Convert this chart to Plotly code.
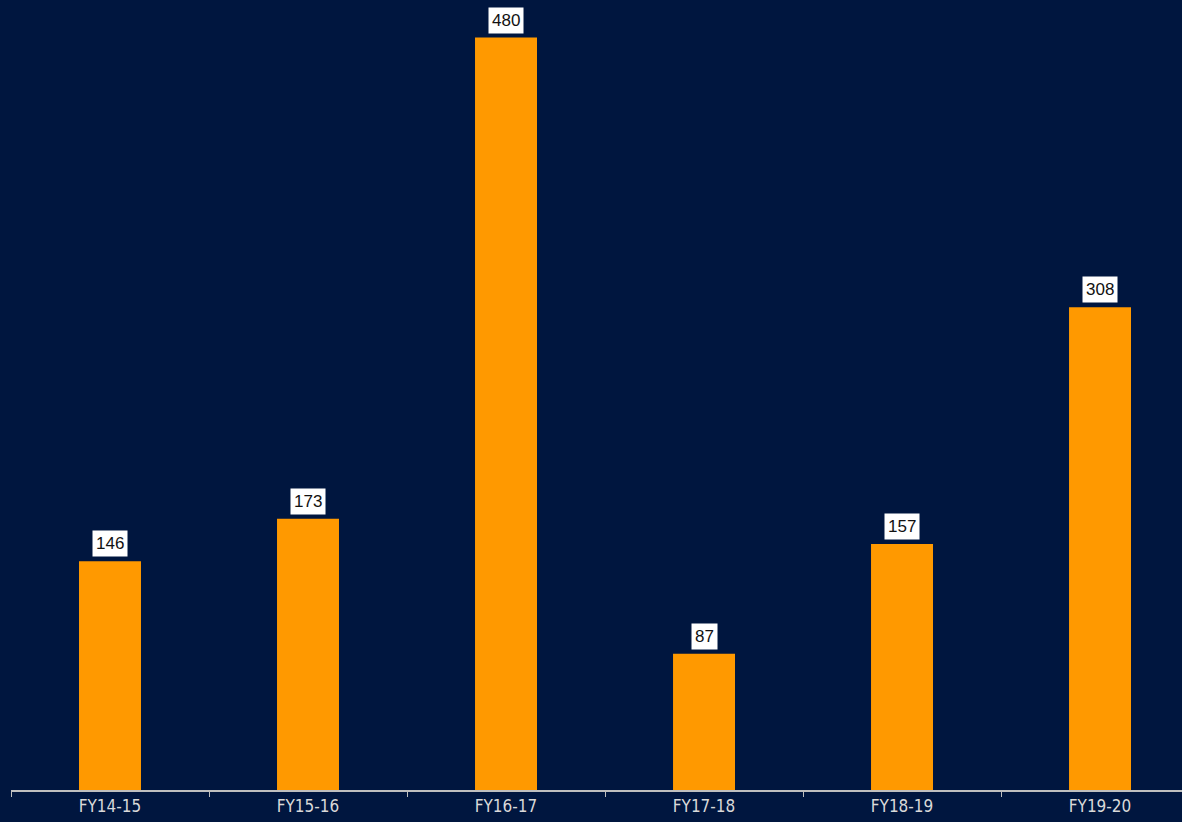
import plotly.graph_objects as go

years = ["FY14-15", "FY15-16", "FY16-17", "FY17-18", "FY18-19", "FY19-20"]
values = [146, 173, 480, 87, 157, 308]

bg = "#00163f"
bar_color = "#ff9900"

fig = go.Figure(
    go.Bar(
        x=years,
        y=values,
        marker=dict(color=bar_color, line=dict(width=0)),
        width=0.313,
        hoverinfo="skip",
    )
)

# White value boxes sitting just above each bar
for yr, v in zip(years, values):
    fig.add_annotation(
        x=yr, y=v, text=str(v), showarrow=False,
        yanchor="bottom", yshift=4,
        bgcolor="white", borderpad=3,
        font=dict(family="Liberation Sans, Arial, sans-serif", size=17, color="#111111"),
    )

fig.update_layout(
    width=1182, height=822,
    paper_bgcolor=bg, plot_bgcolor=bg,
    margin=dict(l=11, r=0, t=0, b=32),
    showlegend=False,
)
fig.update_xaxes(
    range=[-0.5, 5.414],
    showline=True, linecolor="#bfbfbf", linewidth=1.5,
    ticks="outside", tickson="boundaries", ticklen=5, tickcolor="#bfbfbf",
    tickfont=dict(family="DejaVu Sans Condensed, DejaVu Sans", size=17, color="#d9d9d9"),
    showgrid=False, zeroline=False,
)
fig.update_yaxes(range=[0, 504], visible=False, showgrid=False, zeroline=False)

fig.write_html("out.html")
